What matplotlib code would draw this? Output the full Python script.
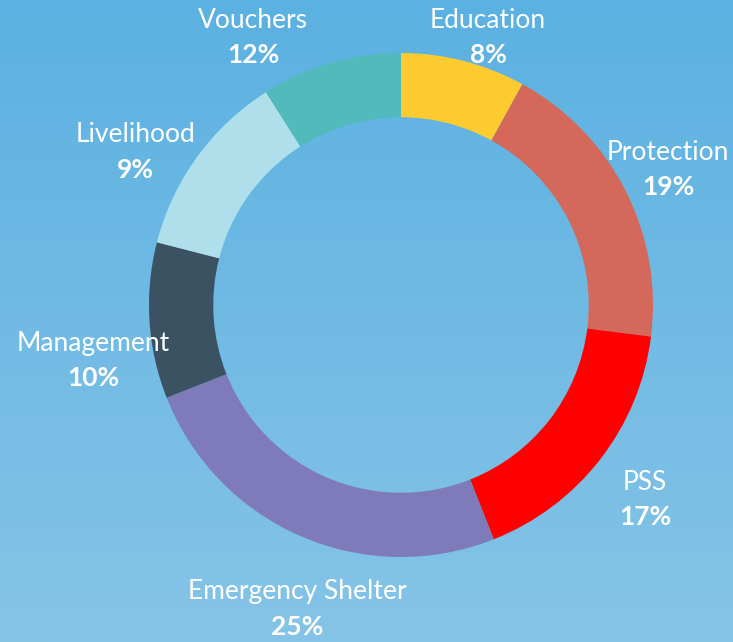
import matplotlib
matplotlib.use('Agg')
import matplotlib.pyplot as plt
import numpy as np
from matplotlib.colors import LinearSegmentedColormap

# Donut data (clockwise from 12 o'clock)
categories = ['Education', 'Protection', 'PSS', 'Emergency Shelter',
              'Management', 'Livelihood', 'Vouchers']
# arc sizes as drawn in the source picture
shares = [8, 19, 17, 25, 10, 12, 9]
# percentages as printed on the labels
label_pcts = ['8%', '19%', '17%', '25%', '10%', '9%', '12%']
colors = ['#FBCB30', '#D4685B', '#FF0000', '#7F7BBA',
          '#3A5262', '#AEDFEA', '#51BABA']

# label anchor points in figure pixels (layout only)
label_pos = [(488, 20), (668, 152), (645, 482), (297, 592),
             (93, 343), (135, 135), (253, 20)]

W, H = 733, 642
fig = plt.figure(figsize=(W / 100, H / 100), dpi=100)

# background gradient
bg = fig.add_axes([0, 0, 1, 1])
cmap = LinearSegmentedColormap.from_list('bg', ['#5BB1E1', '#86C4E7'])
grad = np.linspace(0, 1, 256).reshape(-1, 1)
bg.imshow(grad, aspect='auto', cmap=cmap, extent=[0, 1, 0, 1], origin='upper')
bg.set_axis_off()

cx, cy, r = 401, 305, 252
ax = fig.add_axes([(cx - r) / W, 1 - (cy + r) / H, 2 * r / W, 2 * r / H])
ax.pie(shares, colors=colors, startangle=90, counterclock=False,
       wedgeprops=dict(width=0.255, linewidth=0))
ax.set_xlim(-1, 1)
ax.set_ylim(-1, 1)
ax.set_aspect('equal')
ax.set_axis_off()

font = 'Lato'
for name, pct, (px, py) in zip(categories, label_pcts, label_pos):
    fig.text(px / W, 1 - py / H, name, color='white', fontsize=19,
             family=font, ha='center', va='center')
    fig.text(px / W, 1 - (py + 35) / H, pct, color='white', fontsize=19,
             family=font, fontweight='bold', ha='center', va='center')

plt.savefig('out.png', dpi=100)
